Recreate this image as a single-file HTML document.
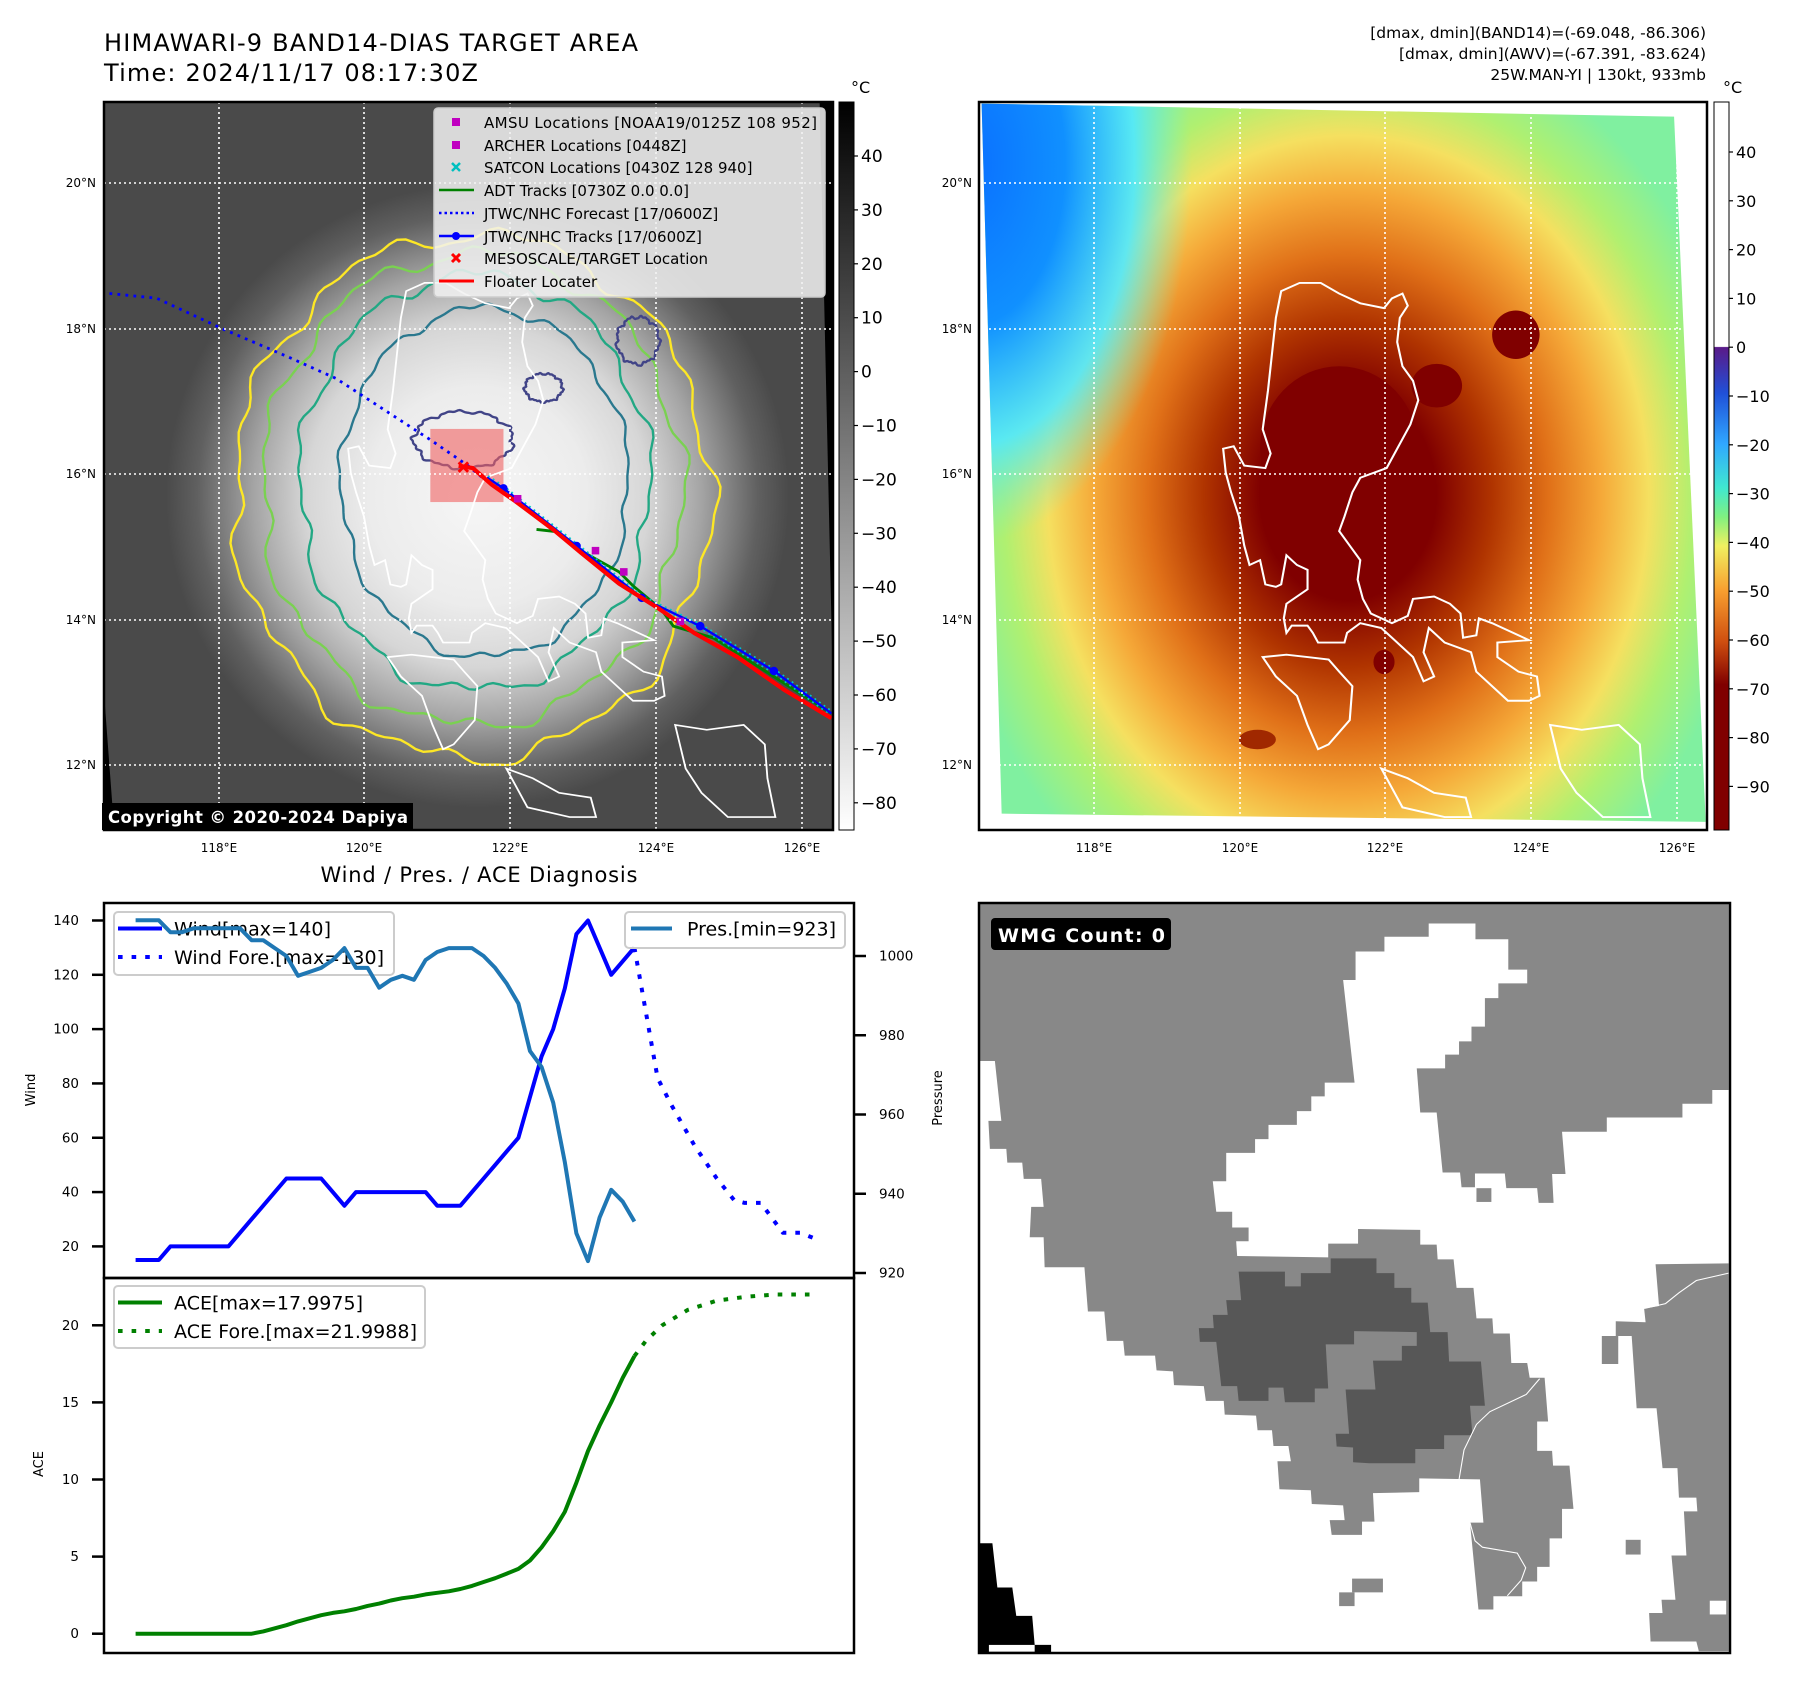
<!DOCTYPE html>
<html><head><meta charset="utf-8"><style>
html,body{margin:0;padding:0;background:#fff;}
svg{display:block;font-family:"DejaVu Sans","Liberation Sans",sans-serif;}
</style></head><body>
<svg id="fig" width="1797" height="1690" viewBox="0 0 1797 1690" xmlns="http://www.w3.org/2000/svg">
<defs>
  <radialGradient id="cloud" cx="800" cy="840" r="660" gradientUnits="userSpaceOnUse">
    <stop offset="0" stop-color="#f6f6f6"/>
    <stop offset="0.35" stop-color="#ececec"/>
    <stop offset="0.55" stop-color="#d6d6d6"/>
    <stop offset="0.72" stop-color="#a4a4a4"/>
    <stop offset="0.9" stop-color="#606060"/>
    <stop offset="1" stop-color="#4a4a4a"/>
  </radialGradient>
  <linearGradient id="grayCb" x1="0" y1="0" x2="0" y2="1">
    <stop offset="0" stop-color="#000"/><stop offset="1" stop-color="#fff"/>
  </linearGradient>
  <linearGradient id="colorCb" x1="0" y1="0" x2="0" y2="1">
    <stop offset="0" stop-color="#fff"/>
    <stop offset="0.336" stop-color="#fff"/>
    <stop offset="0.337" stop-color="#5a1a88"/>
    <stop offset="0.40" stop-color="#2050d8"/>
    <stop offset="0.47" stop-color="#30a8ff"/>
    <stop offset="0.53" stop-color="#40e8d0"/>
    <stop offset="0.57" stop-color="#80f080"/>
    <stop offset="0.61" stop-color="#f0f060"/>
    <stop offset="0.67" stop-color="#f8a030"/>
    <stop offset="0.74" stop-color="#d05010"/>
    <stop offset="0.80" stop-color="#800000"/>
    <stop offset="1" stop-color="#800000"/>
  </linearGradient>
  <radialGradient id="storm" cx="717" cy="835" r="760" gradientUnits="userSpaceOnUse" gradientTransform="translate(717 835) scale(1 1.3) translate(-717 -835)">
    <stop offset="0" stop-color="#800000"/>
    <stop offset="0.22" stop-color="#800000"/>
    <stop offset="0.36" stop-color="#b03400"/>
    <stop offset="0.5" stop-color="#e07018"/>
    <stop offset="0.63" stop-color="#f5a838"/>
    <stop offset="0.75" stop-color="#f5e060"/>
    <stop offset="0.86" stop-color="#b0f070"/>
    <stop offset="1" stop-color="#80f0a0"/>
  </radialGradient>
  <radialGradient id="blueCorner" cx="0" cy="150" r="800" gradientUnits="userSpaceOnUse" gradientTransform="translate(0 150) scale(0.75 1.4) translate(0 -150)">
    <stop offset="0" stop-color="#0a70ff" stop-opacity="1"/>
    <stop offset="0.3" stop-color="#1090ff" stop-opacity="1"/>
    <stop offset="0.52" stop-color="#50e8ff" stop-opacity="0.9"/>
    <stop offset="0.7" stop-color="#70f0d0" stop-opacity="0"/>
  </radialGradient>
  <clipPath id="clipL"><rect x="104" y="102" width="729" height="728"/></clipPath>
  <clipPath id="clipR"><rect x="979" y="102" width="728" height="728"/></clipPath>
  <clipPath id="clipBR"><rect x="979" y="903" width="751" height="750"/></clipPath>
  <path id="luzon" d="M590,415 L625,398 L665,398 L700,420 L740,440 L785,450 L800,430 L820,420 L830,445 L815,470 L810,520 L820,570 L840,600 L850,640 L835,690 L810,740 L790,780 L740,800 L725,830 L710,880 L700,910 L720,940 L740,970 L735,1010 L745,1050 L760,1080 L800,1100 L830,1085 L840,1050 L880,1045 L910,1060 L930,1080 L935,1130 L960,1125 L965,1090 L990,1100 L1060,1135 L1000,1140 L1000,1170 L1040,1200 L1075,1210 L1080,1250 L1060,1260 L1020,1260 L990,1230 L960,1200 L950,1160 L900,1140 L870,1110 L860,1160 L880,1210 L860,1220 L840,1170 L800,1130 L780,1110 L740,1100 L715,1120 L710,1140 L660,1140 L650,1120 L640,1105 L610,1105 L600,1120 L595,1090 L600,1060 L640,1030 L640,990 L620,980 L600,960 L590,1020 L580,1025 L560,1020 L550,970 L530,980 L520,940 L510,880 L495,830 L485,790 L480,740 L500,735 L520,775 L560,780 L570,750 L555,700 L565,620 L575,520 L580,470 Z M555,1170 L600,1165 L640,1170 L680,1175 L700,1200 L725,1230 L720,1300 L680,1350 L660,1360 L640,1310 L620,1250 L580,1210 Z M1100,1310 L1160,1320 L1230,1310 L1270,1350 L1275,1420 L1290,1500 L1200,1500 L1150,1450 L1120,1400 Z M780,1400 L830,1420 L880,1450 L940,1460 L950,1500 L900,1500 L820,1480 Z"/>
</defs>

<text x="104" y="51" font-size="24" textLength="534">HIMAWARI-9 BAND14-DIAS TARGET AREA</text>
<text x="104" y="81" font-size="24" textLength="374">Time: 2024/11/17 08:17:30Z</text>
<g font-size="15.5" text-anchor="end">
  <text x="1706" y="38">[dmax, dmin](BAND14)=(-69.048, -86.306)</text>
  <text x="1706" y="59">[dmax, dmin](AWV)=(-67.391, -83.624)</text>
  <text x="1706" y="80">25W.MAN-YI | 130kt, 933mb</text>
</g>

<g id="leftMap">
  <rect x="104" y="102" width="729" height="728" fill="#000"/>
  <g clip-path="url(#clipL)">
    <g transform="translate(100 100) scale(0.4719)">
      <polygon points="8,5 1525,5 1560,1545 30,1545 8,1250" fill="url(#cloud)"/>
      <g id="contours" fill="none" stroke-width="5"></g>
      <rect x="700" y="697" width="155" height="155" fill="#f06060" fill-opacity="0.6"/>
    </g>
    <g transform="translate(95 90) scale(0.5274 0.4847)" fill="none" stroke="#fff" stroke-width="3.5">
      <use href="#luzon"/>
    </g>
    <g transform="translate(100 100) scale(0.4719)">
      <polyline points="20,410 120,420 260,485 400,545 500,590 600,655 700,720 780,775 810,800" fill="none" stroke="#0000ff" stroke-width="6" stroke-dasharray="6,11"/>
      <polyline points="925,910 970,915 1010,950 1100,1000 1130,1030 1190,1080 1215,1115 1300,1140 1550,1300" fill="none" stroke="#008000" stroke-width="6"/>
      <polyline points="820,800 855,823 1010,945 1148,1055 1272,1115 1428,1210 1550,1300" fill="none" stroke="#00c8c8" stroke-width="12" stroke-dasharray="4,8"/>
      <polyline points="820,800 855,823 1010,945 1148,1055 1272,1115 1428,1210 1550,1300" fill="none" stroke="#0000ff" stroke-width="5"/>
      <g fill="#0000ff">
        <circle cx="855" cy="823" r="9"/><circle cx="1010" cy="945" r="9"/><circle cx="1148" cy="1055" r="9"/><circle cx="1272" cy="1115" r="9"/><circle cx="1428" cy="1210" r="9"/>
      </g>
      <polyline points="760,775 790,780 830,815 880,850 960,910 1020,960 1100,1025 1180,1075 1260,1130 1350,1180 1450,1250 1550,1310" fill="none" stroke="#ff0000" stroke-width="9"/>
      <g fill="#c000c0">
        <rect x="877" y="837" width="16" height="16"/><rect x="1042" y="947" width="16" height="16"/><rect x="1102" y="992" width="16" height="16"/><rect x="1222" y="1097" width="16" height="16"/>
      </g>
      <path d="M760,768 L780,788 M780,768 L760,788" stroke="#ff0000" stroke-width="6"/>
    </g>
    <g stroke="#fff" stroke-width="1.6" stroke-dasharray="2,3">
      <line x1="219" y1="102" x2="219" y2="830"/><line x1="364" y1="102" x2="364" y2="830"/><line x1="510" y1="102" x2="510" y2="830"/><line x1="656" y1="102" x2="656" y2="830"/><line x1="802" y1="102" x2="802" y2="830"/>
      <line x1="104" y1="183" x2="833" y2="183"/><line x1="104" y1="329" x2="833" y2="329"/><line x1="104" y1="474" x2="833" y2="474"/><line x1="104" y1="620" x2="833" y2="620"/><line x1="104" y1="765" x2="833" y2="765"/>
    </g>
  </g>
  <g>
    <rect x="434" y="108" width="391" height="189" rx="4" fill="#f2f2f2" fill-opacity="0.85" stroke="#ccc" stroke-width="1.5"/>
    <g font-size="15">
      <rect x="452" y="118" width="8" height="8" fill="#c000c0"/>
      <text x="484" y="128" textLength="333">AMSU Locations [NOAA19/0125Z 108 952]</text>
      <rect x="452" y="141" width="8" height="8" fill="#c000c0"/>
      <text x="484" y="151">ARCHER Locations [0448Z]</text>
      <path d="M452,163 L460,171 M460,163 L452,171" stroke="#00bfbf" stroke-width="2.5"/>
      <text x="484" y="173">SATCON Locations [0430Z 128 940]</text>
      <line x1="439" y1="190" x2="474" y2="190" stroke="#008000" stroke-width="2.5"/>
      <text x="484" y="196">ADT Tracks [0730Z 0.0 0.0]</text>
      <line x1="439" y1="213" x2="474" y2="213" stroke="#0000ff" stroke-width="2.5" stroke-dasharray="2.5,3"/>
      <text x="484" y="219">JTWC/NHC Forecast [17/0600Z]</text>
      <line x1="439" y1="236" x2="474" y2="236" stroke="#0000ff" stroke-width="2.5"/><circle cx="456" cy="236" r="4" fill="#0000ff"/>
      <text x="484" y="242">JTWC/NHC Tracks [17/0600Z]</text>
      <path d="M452,254 L460,262 M460,254 L452,262" stroke="#ff0000" stroke-width="3"/>
      <text x="484" y="264">MESOSCALE/TARGET Location</text>
      <line x1="439" y1="281" x2="474" y2="281" stroke="#ff0000" stroke-width="3"/>
      <text x="484" y="287">Floater Locater</text>
    </g>
  </g>
  <rect x="102" y="803" width="311" height="27" fill="#000"/>
  <text x="108" y="823" font-size="16.5" font-weight="bold" fill="#fff" textLength="300">Copyright © 2020-2024 Dapiya</text>
  <rect x="104" y="102" width="729" height="728" fill="none" stroke="#000" stroke-width="2.5"/>
  <g font-size="12" text-anchor="end">
    <text x="96" y="187">20°N</text><text x="96" y="333">18°N</text><text x="96" y="478">16°N</text><text x="96" y="624">14°N</text><text x="96" y="769">12°N</text>
  </g>
  <g font-size="12" text-anchor="middle">
    <text x="219" y="852">118°E</text><text x="364" y="852">120°E</text><text x="510" y="852">122°E</text><text x="656" y="852">124°E</text><text x="802" y="852">126°E</text>
  </g>
  <rect x="839" y="102" width="15" height="728" fill="url(#grayCb)" stroke="#000" stroke-width="1"/>
  <text x="851" y="93" font-size="16">°C</text>
  <g id="cbLeftTicks" font-size="17"></g>
</g>

<g id="rightMap">
  <rect x="979" y="102" width="728" height="728" fill="#fff"/>
  <g clip-path="url(#clipR)">
    <g transform="translate(970 90) scale(0.5274 0.4847)">
      <polygon points="22,28 1335,55 1395,1510 60,1493" fill="url(#storm)"/>
      <polygon points="22,28 1335,55 1395,1510 60,1493" fill="url(#blueCorner)"/>
      <g fill="#800000">
        <ellipse cx="1035" cy="505" rx="45" ry="50"/><ellipse cx="885" cy="610" rx="48" ry="45"/><ellipse cx="700" cy="740" rx="150" ry="170"/><ellipse cx="785" cy="1180" rx="20" ry="25"/><ellipse cx="545" cy="1340" rx="35" ry="20" fill="#a02800"/>
      </g>
      <use href="#luzon" fill="none" stroke="#fff" stroke-width="4"/>
    </g>
    <g stroke="#fff" stroke-width="1.6" stroke-dasharray="2,3">
      <line x1="1094" y1="102" x2="1094" y2="830"/><line x1="1240" y1="102" x2="1240" y2="830"/><line x1="1385" y1="102" x2="1385" y2="830"/><line x1="1531" y1="102" x2="1531" y2="830"/><line x1="1677" y1="102" x2="1677" y2="830"/>
      <line x1="979" y1="183" x2="1707" y2="183"/><line x1="979" y1="329" x2="1707" y2="329"/><line x1="979" y1="474" x2="1707" y2="474"/><line x1="979" y1="620" x2="1707" y2="620"/><line x1="979" y1="765" x2="1707" y2="765"/>
    </g>
  </g>
  <rect x="979" y="102" width="728" height="728" fill="none" stroke="#000" stroke-width="2.5"/>
  <g font-size="12" text-anchor="end">
    <text x="972" y="187">20°N</text><text x="972" y="333">18°N</text><text x="972" y="478">16°N</text><text x="972" y="624">14°N</text><text x="972" y="769">12°N</text>
  </g>
  <g font-size="12" text-anchor="middle">
    <text x="1094" y="852">118°E</text><text x="1240" y="852">120°E</text><text x="1385" y="852">122°E</text><text x="1531" y="852">124°E</text><text x="1677" y="852">126°E</text>
  </g>
  <rect x="1714" y="102" width="15" height="728" fill="url(#colorCb)" stroke="#000" stroke-width="1"/>
  <text x="1723" y="93" font-size="16">°C</text>
  <g id="cbRightTicks" font-size="16"></g>
</g>

<text x="479" y="882" font-size="21" text-anchor="middle" textLength="317">Wind / Pres. / ACE Diagnosis</text>
<g id="chart"></g>

<g>
  <rect x="979" y="903" width="751" height="750" fill="#fff"/>
  <g clip-path="url(#clipBR)">
    <g transform="translate(970 895) scale(0.4975 0.4911)">
      <polygon fill="#888" points="20,15 1525,15 1525,397 1492,397 1492,425 1432,425 1432,453 1280,453 1280,482 1190,482 1197,568 1170,568 1173,627 1143,627 1140,597 1078,597 1075,567 1015,567 1015,595 988,595 985,565 950,565 938,443 905,443 898,353 955,353 955,325 983,325 983,298 1008,298 1008,268 1035,268 1035,210 1062,210 1062,180 1120,180 1120,152 1082,152 1082,90 1016,90 1016,58 922,58 922,85 833,85 833,115 775,115 775,173 750,173 773,382 713,382 713,410 686,410 686,440 657,440 657,468 600,468 600,497 573,497 573,525 515,525 515,583 488,583 495,645 527,645 527,677 560,677 560,705 535,705 537,735 720,738 720,710 780,710 780,680 905,682 905,712 938,712 940,742 972,742 978,800 1012,800 1018,862 1050,862 1052,893 1085,893 1088,953 1120,953 1125,983 1155,983 1162,1072 1140,1072 1140,1132 1170,1132 1172,1162 1205,1162 1213,1250 1190,1250 1190,1310 1165,1310 1165,1368 1140,1368 1140,1398 1110,1398 1110,1428 1052,1428 1052,1455 1022,1455 1005,1278 1032,1278 1025,1190 903,1188 903,1216 810,1218 813,1276 788,1276 788,1303 727,1303 723,1273 753,1273 750,1243 687,1240 685,1212 622,1210 618,1153 645,1153 640,1122 610,1122 607,1090 578,1090 575,1060 512,1058 510,1030 474,1030 470,1000 410,998 408,970 375,968 372,938 311,938 308,908 275,908 270,848 237,848 230,758 150,758 148,697 120,697 123,635 148,635 143,578 108,578 105,545 75,545 73,517 40,517 37,460 63,460 50,338 20,338"/>
      <polygon fill="#888" points="1378,752 1525,750 1525,1540 1465,1540 1460,1520 1368,1520 1365,1462 1392,1462 1390,1435 1418,1435 1410,1345 1440,1345 1435,1255 1462,1255 1460,1227 1425,1227 1422,1167 1392,1167 1380,1045 1340,1045 1330,898 1298,898 1298,868 1358,870 1355,842 1385,837"/>
      <rect x="1487" y="1437" width="33" height="28" fill="#fff"/>
      <g fill="#888">
        <rect x="1270" y="898" width="33" height="57"/><rect x="1318" y="1313" width="30" height="30"/><rect x="768" y="1392" width="62" height="28"/><rect x="742" y="1420" width="31" height="28"/><rect x="1018" y="597" width="30" height="28"/>
      </g>
      <polygon fill="#575757" points="540,767 633,767 633,797 665,797 665,770 725,770 725,740 817,740 817,770 853,770 853,800 887,800 887,830 920,830 925,890 960,890 963,950 1027,950 1035,1040 1005,1040 1010,1100 953,1100 953,1128 895,1128 895,1157 803,1157 770,1155 770,1125 737,1123 735,1097 762,1097 755,1007 815,1007 810,948 868,948 868,918 898,918 898,890 772,888 772,915 715,915 720,1005 693,1005 693,1033 633,1033 630,1003 600,1003 600,1030 540,1030 537,1000 505,1000 495,910 462,910 460,882 490,882 488,855 518,855 515,825 545,825"/>
      <polygon fill="#000" points="20,1320 45,1320 55,1410 85,1410 93,1468 125,1468 130,1527 163,1527 163,1545 20,1545"/>
      <rect x="38" y="1527" width="92" height="14" fill="#fff"/>
      <g fill="none" stroke="#fff" stroke-width="2.2">
        <polyline points="1355,842 1398,832 1425,810 1460,785 1525,770"/>
        <polyline points="1145,985 1118,1017 1045,1052 1018,1078 993,1130 983,1190"/>
        <polyline points="1005,1278 1015,1315 1030,1328 1100,1340 1117,1370 1108,1395 1080,1427"/>
      </g>
    </g>
  </g>
  <rect x="979" y="903" width="751" height="750" fill="none" stroke="#000" stroke-width="2.5"/>
  <rect x="991" y="918" width="180" height="32" rx="4" fill="#000"/>
  <text x="998" y="942" font-size="19" font-weight="bold" fill="#fff" textLength="167">WMG Count: 0</text>
</g>

<script>
const obsIndex = [0,1,2,3,4,5,6,7,8,9,10,11,12,13,14,15,16,17,18,19,20,21,22,23,24,25,26,27,28,29,30,31,32,33,34,35,36,37,38,39,40,41,42,43];
const windObs = [15,15,15,20,20,20,20,20,20,25,30,35,40,45,45,45,45,40,35,40,40,40,40,40,40,40,35,35,35,40,45,50,55,60,75,90,100,115,135,140,130,120,125,130];
const presObs = [1009,1009,1009,1006,1006,1007,1007,1007,1007,1007,1004,1004,1002,1000,995,996,997,999,1002,997,997,992,994,995,994,999,1001,1002,1002,1002,1000,997,993,988,976,972,963,948,930,923,934,941,938,933];
const aceObs = [0,0,0,0,0,0,0,0,0,0,0,0.15,0.35,0.55,0.8,1.0,1.2,1.35,1.45,1.6,1.8,1.95,2.15,2.3,2.4,2.55,2.65,2.75,2.9,3.1,3.35,3.6,3.9,4.2,4.75,5.6,6.65,7.9,9.8,11.85,13.5,15,16.6,18.0];
const windForeIndex = [43,45,46.2,48.2,50.1,51.6,52.5,53.9,55.8,57.3,58.5];
const windFore = [130,82,72,57,45,37,36,36,25,25,23];
const aceForeIndex = [43,44,45.4,47.6,50.1,52.6,55.1,58.5];
const aceFore = [18.0,19.0,20.0,21.0,21.6,21.85,22.0,22.0];
const windTicks = [20,40,60,80,100,120,140];
const presTicks = [920,940,960,980,1000];
const aceTicks = [0,5,10,15,20];
const cbLeftTicks = [40,30,20,10,0,-10,-20,-30,-40,-50,-60,-70,-80];
const cbRightTicks = [40,30,20,10,0,-10,-20,-30,-40,-50,-60,-70,-80,-90];

const NS = "http://www.w3.org/2000/svg";
function mk(tag, attrs, parent){ const e=document.createElementNS(NS,tag); for(const k in attrs) e.setAttribute(k,attrs[k]); if(parent) parent.appendChild(e); return e; }
function fmt(v){ return v<0 ? "\u2212"+Math.abs(v) : String(v); }

const X = n => 135.6 + 11.6*n;
const YW = v => 1246.4 - (v-20)*2.716;
const YP = p => 1273 - (p-920)*3.9625;
const YA = a => 1633.7 - a*15.42;
const YCL = v => 156 - (v-40)*5.39;
const YCR = v => 152 - (v-40)*4.88;

const chart = document.getElementById('chart');

function line(xs, ys, fx, fy, color, dash, name){
  const pts = xs.map((x,i)=> fx(x).toFixed(1)+","+fy(ys[i]).toFixed(1)).join(" ");
  const a = {points:pts, fill:"none", stroke:color, "stroke-width":4, "stroke-linejoin":"round"};
  if(dash){ a["stroke-dasharray"]="4.6,9"; }
  const el = mk('polyline', a, chart);
  
  
  return el;
}

let f1 = mk('rect',{x:104,y:903,width:750,height:375,fill:"none",stroke:"#000","stroke-width":2.5},chart);


let f2 = mk('rect',{x:104,y:1278,width:750,height:375,fill:"none",stroke:"#000","stroke-width":2.5},chart);



windTicks.forEach(v=>{
  const y=YW(v);
  mk('line',{x1:92,y1:y,x2:104,y2:y,stroke:"#000","stroke-width":2.5},chart);
  const t=mk('text',{x:79,y:y+4.5,"font-size":13.5,"text-anchor":"end"},chart); t.textContent=v;
  
  
});
presTicks.forEach(v=>{
  const y=YP(v);
  mk('line',{x1:854,y1:y,x2:866,y2:y,stroke:"#000","stroke-width":2.5},chart);
  const t=mk('text',{x:879,y:y+4.5,"font-size":13.5},chart); t.textContent=v;
  
  
});
aceTicks.forEach(v=>{
  const y=YA(v);
  mk('line',{x1:92,y1:y,x2:104,y2:y,stroke:"#000","stroke-width":2.5},chart);
  const t=mk('text',{x:79,y:y+4.5,"font-size":13.5,"text-anchor":"end"},chart); t.textContent=v;
  
  
});
let yl1=mk('text',{x:0,y:0,"font-size":13,"text-anchor":"middle",transform:"translate(35 1090) rotate(-90)"},chart); yl1.textContent="Wind";


let yl2=mk('text',{x:0,y:0,"font-size":13,"text-anchor":"middle",transform:"translate(942 1098) rotate(-90)"},chart); yl2.textContent="Pressure";


let yl3=mk('text',{x:0,y:0,"font-size":13,"text-anchor":"middle",transform:"translate(43 1464) rotate(-90)"},chart); yl3.textContent="ACE";



line(obsIndex, windObs, X, YW, "#0000ff", false, "wind-line");
line(windForeIndex, windFore, X, YW, "#0000ff", true, "wind-forecast-line");
line(obsIndex, aceObs, X, YA, "#008000", false, "ace-line");
line(aceForeIndex, aceFore, X, YA, "#008000", true, "ace-forecast-line");

function legendBox(x,y,w,h,name){
  const r=mk('rect',{x:x,y:y,width:w,height:h,rx:4,fill:"#fff","fill-opacity":0.8,stroke:"#ccc","stroke-width":2},chart);
  
  
}
function legendEntry(x1,x2,y,color,dash,tx,label,len,name){
  const a={x1:x1,y1:y,x2:x2,y2:y,stroke:color,"stroke-width":4};
  if(dash) a["stroke-dasharray"]="4.6,9";
  mk('line',a,chart);
  const t=mk('text',{x:tx,y:y+7,"font-size":19,textLength:len},chart); t.textContent=label;
  
  
}
legendBox(114,912,280,63,"wind-legend");
legendEntry(118,162,928.5,"#0000ff",false,174,"Wind[max=140]",157,"legend-wind");
legendEntry(118,162,957,"#0000ff",true,174,"Wind Fore.[max=130]",210,"legend-wind-forecast");
legendBox(625,912,220,36,"pressure-legend");
legendEntry(631,672,928.5,"#1f77b4",false,687,"Pres.[min=923]",149,"legend-pressure");
legendBox(114,1286,311,62,"ace-legend");
legendEntry(118,162,1302.5,"#008000",false,174,"ACE[max=17.9975]",189,"legend-ace");
legendEntry(118,162,1331,"#008000",true,174,"ACE Fore.[max=21.9988]",243,"legend-ace-forecast");

line(obsIndex, presObs, X, YP, "#1f77b4", false, "pressure-line");

const cbl=document.getElementById('cbLeftTicks');
cbLeftTicks.forEach(v=>{
  const y=YCL(v);
  mk('line',{x1:854,y1:y,x2:858,y2:y,stroke:"#000","stroke-width":1.2},cbl);
  const t=mk('text',{x:861,y:y+6},cbl); t.textContent=fmt(v);
  
  
});
const cbr=document.getElementById('cbRightTicks');
cbRightTicks.forEach(v=>{
  const y=YCR(v);
  mk('line',{x1:1729,y1:y,x2:1733,y2:y,stroke:"#000","stroke-width":1.2},cbr);
  const t=mk('text',{x:1736,y:y+6},cbr); t.textContent=fmt(v);
  
  
});

const cg=document.getElementById('contours');
function ring(cx,cy,rx,ry,amp,seed,color,name){
  let d="";
  for(let i=0;i<=180;i++){
    const t=i/180*Math.PI*2;
    const k=1+amp*(Math.sin(t*9+seed)*0.5+Math.sin(t*17+seed*2)*0.3+Math.sin(t*31+seed*3)*0.2);
    const x=cx+rx*k*Math.cos(t), y=cy+ry*k*Math.sin(t);
    d+=(i?"L":"M")+x.toFixed(1)+","+y.toFixed(1);
  }
  const p=mk('path',{d:d+"Z",stroke:color,fill:"none","stroke-width":5},cg);
  
  
}
ring(790,840,505,555,0.05,1,"#fde725","contour-yellow");
ring(790,825,445,500,0.05,2,"#7ad151","contour-lightgreen");
ring(795,810,372,440,0.05,3,"#22a884","contour-teal");
ring(815,810,305,370,0.04,4,"#2a788e","contour-darkteal");
ring(770,720,105,60,0.08,5,"#414487","contour-navy");
ring(940,610,40,30,0.1,6,"#414487","contour-navy-small");
ring(1140,510,45,50,0.1,7,"#414487","contour-navy-ne");
</script>
</svg>
</body></html>
